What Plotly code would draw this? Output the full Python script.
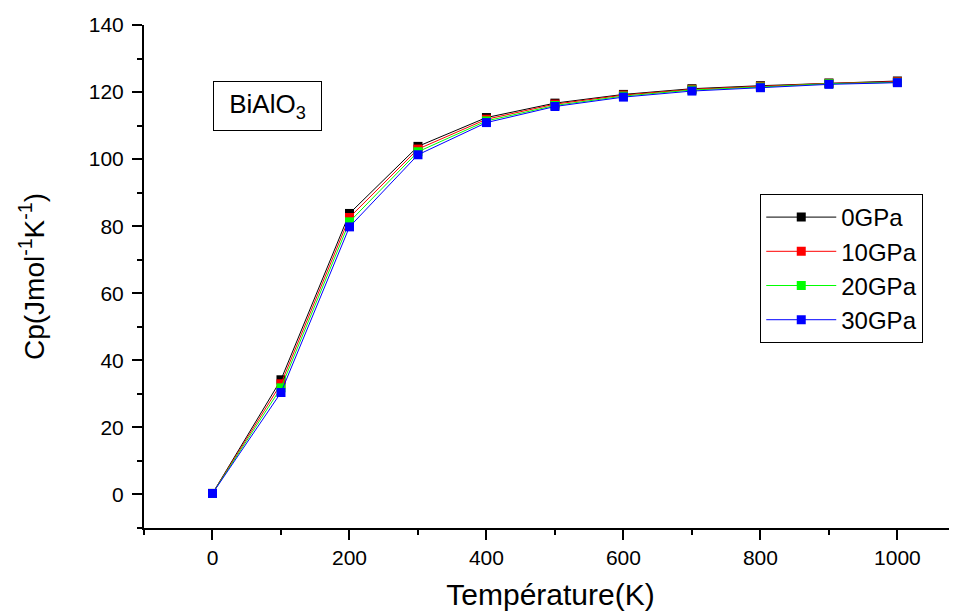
import plotly.graph_objects as go

temperature = [0, 100, 200, 300, 400, 500, 600, 700, 800, 900, 1000]
cp_0GPa = [0.3, 34.2, 83.8, 103.8, 112.4, 116.7, 119.3, 121.0, 121.9, 122.7, 123.3]
cp_10GPa = [0.3, 33.0, 82.6, 103.0, 111.9, 116.4, 119.1, 120.8, 121.7, 122.6, 123.1]
cp_20GPa = [0.3, 31.8, 81.3, 102.2, 111.4, 116.0, 118.8, 120.6, 121.5, 122.5, 122.9]
cp_30GPa = [0.3, 30.4, 79.8, 101.3, 110.9, 115.7, 118.5, 120.3, 121.3, 122.3, 122.8]

series_names = ["0GPa", "10GPa", "20GPa", "30GPa"]
series_values = [cp_0GPa, cp_10GPa, cp_20GPa, cp_30GPa]
series_colors = ["#000000", "#FF0000", "#00FF00", "#0000FF"]

FONT = "Arial, Liberation Sans, sans-serif"

fig = go.Figure()
for name, vals, col in zip(series_names, series_values, series_colors):
    fig.add_trace(go.Scatter(
        x=temperature, y=vals, name=name, mode="lines+markers",
        line=dict(color=col, width=1),
        marker=dict(symbol="square", size=9, color=col, line=dict(width=0)),
    ))

# page body has an 8px margin: figure is sized to fill the rest of the window
fig.update_layout(
    width=949, height=603,
    margin=dict(l=136, r=0, t=17, b=83),
    paper_bgcolor="white", plot_bgcolor="white",
    font=dict(family=FONT, color="black", size=21),
    showlegend=True,
    legend=dict(
        x=0.758, y=0.664, xanchor="left", yanchor="top",
        bordercolor="black", borderwidth=1, bgcolor="white",
        font=dict(size=24, family=FONT), itemwidth=70,
        tracegroupgap=0,
    ),
    annotations=[dict(
        text="BiAlO<sub>3</sub>", x=0.152, y=0.839, xref="paper", yref="paper",
        xanchor="center", yanchor="middle",
        showarrow=False, font=dict(size=26, family=FONT),
        width=95, height=36, align="center", valign="middle",
        bordercolor="black", borderwidth=1, borderpad=6,
    )],
)

fig.update_xaxes(
    range=[-100, 1087], showgrid=False, zeroline=False,
    showline=True, linecolor="black", linewidth=2,
    ticks="outside", tickwidth=1.5, ticklen=10, tickcolor="black",
    tick0=0, dtick=200,
    minor=dict(ticks="outside", ticklen=5, tickwidth=1.5, tickcolor="black", dtick=100, tick0=0),
    tickfont=dict(size=21, family=FONT),
    title=dict(text="Température(K)", font=dict(size=30, family=FONT), standoff=17),
)
fig.update_yaxes(
    range=[-10, 140], showgrid=False, zeroline=False,
    showline=True, linecolor="black", linewidth=2,
    ticks="outside", tickwidth=1.5, ticklen=10, tickcolor="black",
    tick0=0, dtick=20,
    minor=dict(ticks="outside", ticklen=5, tickwidth=1.5, tickcolor="black", dtick=10, tick0=0),
    tickfont=dict(size=21, family=FONT), ticklabelstandoff=4,
    title=dict(text="Cp(Jmol<sup>-1</sup>K<sup>-1</sup>)", font=dict(size=28, family=FONT), standoff=36),
)

fig.write_html("out.html")
